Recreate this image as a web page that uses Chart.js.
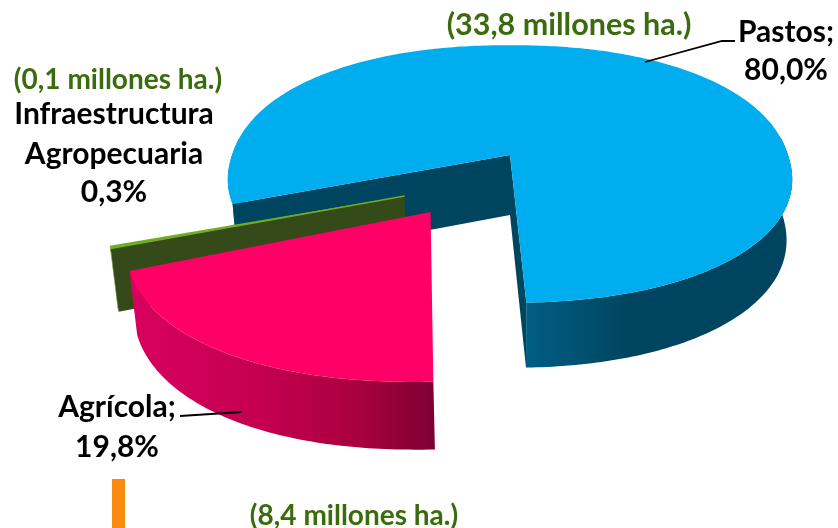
<!DOCTYPE html>
<html lang="es">
<head>
<meta charset="utf-8">
<title>Uso de la tierra</title>
<script src="https://cdn.jsdelivr.net/npm/chart.js@4"></script>
<style>
html,body{margin:0;padding:0;background:#fff;overflow:hidden}
canvas{display:block}
</style>
</head>
<body>
<canvas id="c" width="838" height="528"></canvas>
<script>
const categories = ["Pastos", "Agrícola", "Infraestructura Agropecuaria"];
const shares = [80.0, 19.8, 0.3];
const hectares = [33.8, 8.4, 0.1];

// --- presentation only ---
const GREEN = "#3A6B0C";
const FAMILY = 'Lato, "Open Sans", sans-serif';
const cam = {cx:510, cy:155, A:126, B:278, k:0.147, depthY:60, scaleY:1.034, scaleX:0.98};
const pieces = [
  {top:"#00AEEF", wall:"#004560", shift:[0,0], round:0.93,
   side:[[225,"#1398CE"],[242,"#1398CE"],[243,"#005E84"],[525,"#005E84"],[630,"#00455F"],[800,"#00455F"]]},
  {top:"#FF0066", wall:"#8A0038", shift:[-0.268,0.424], round:0.93,
   side:[[130,"#DA0060"],[260,"#C4004F"],[360,"#A8003F"],[436,"#7D0032"]]},
  {top:"#6FAE23", wall:"#344A18", shift:[-0.362,0.31], round:1,
   side:[[100,"#5E8A22"],[125,"#5E8A22"]]}
];
const paintOrder = [0,2,1];
const valueText = v => v.toFixed(1).replace(".",",");
const texts = [
  {lines:[`(${valueText(hectares[0])} millones ha.)`], color:GREEN, size:30.5, x:569, y:[35]},
  {lines:[`${categories[0]};`, `${valueText(shares[0])}%`], color:"#000", size:30, x:786, y:[42,80]},
  {lines:[`(${valueText(hectares[2])} millones ha.)`], color:GREEN, size:28, x:118, y:[89]},
  {lines:categories[2].split(" ").concat([`${valueText(shares[2])}%`]), color:"#000", size:30, x:114, y:[124,164,202]},
  {lines:[`${categories[1]};`, `${valueText(shares[1])}%`], color:"#000", size:30, x:117, y:[417,457]},
  {lines:[`(${valueText(hectares[1])} millones ha.)`], color:GREEN, size:28, x:354, y:[525]}
];
const leaders = [
  [[645,62],[722,41],[735,41]],
  [[180,416],[242,412]]
];

function project(s,t,bottom){
  const w = 1 - cam.k*t;
  let x = cam.B*s/w, y = cam.A*t/w;
  if(bottom){ x*=cam.scaleX; y = y*cam.scaleY + cam.depthY; }
  return [cam.cx+x, cam.cy+y];
}
function rim(a,p){
  const c=Math.cos(a), n=Math.sin(a);
  return [Math.sign(c)*Math.pow(Math.abs(c),p), Math.sign(n)*Math.pow(Math.abs(n),p)];
}
function poly(ctx,pts,fill){
  ctx.beginPath();
  pts.forEach((p,i)=> i?ctx.lineTo(p[0],p[1]):ctx.moveTo(p[0],p[1]));
  ctx.closePath();
  ctx.fillStyle=fill; ctx.fill();
}
function arcAngles(a0,a1){
  const out=[], n=Math.max(2,Math.ceil((a1-a0)/0.015));
  for(let i=0;i<=n;i++) out.push(a0+(a1-a0)*i/n);
  return out;
}
const threeD = {
  id:"threeD",
  beforeDatasetDraw(chart,args){
    const ctx=chart.ctx, arcs=chart.getDatasetMeta(args.index).data;
    paintOrder.forEach(i=>{
      const el=arcs[i], st=pieces[i];
      const [ox,oy]=st.shift;
      const angs=arcAngles(el.startAngle,el.endAngle);
      const grad=ctx.createLinearGradient(st.side[0][0],0,st.side[st.side.length-1][0],0);
      const span=st.side[st.side.length-1][0]-st.side[0][0];
      st.side.forEach(([x,c])=>grad.addColorStop((x-st.side[0][0])/span,c));
      const pt=(a,b)=>{const r=rim(a,st.round);return project(ox+r[0],oy+r[1],b);};
      // outer rim: only the run of angles facing the viewer
      let run=[];
      const flush=()=>{
        if(run.length>1){
          const upper=run.map(a=>pt(a,false));
          const lower=run.map(a=>pt(a,true)).reverse();
          poly(ctx,upper.concat(lower),grad);
        }
        run=[];
      };
      angs.forEach(a=>{ if(Math.sin(a)>=-0.12) run.push(a); else flush(); });
      flush();
      // cut faces, only those turned toward the viewer
      [[el.startAngle,-1],[el.endAngle,1]].forEach(([a,sign])=>{
        if(sign*Math.cos(a)<=0) return;
        poly(ctx,[project(ox,oy,false),pt(a,false),pt(a,true),project(ox,oy,true)],st.wall);
      });
      // top face
      const topPts=[project(ox,oy,false)].concat(angs.map(a=>pt(a,false)));
      poly(ctx,topPts,st.top);
      if(i===2){
        ctx.beginPath();
        ctx.moveTo(...topPts[0]); ctx.lineTo(...topPts[1]);
        ctx.strokeStyle=st.top; ctx.lineWidth=1.5; ctx.stroke();
      }
    });
    return false;
  },
  afterDraw(chart){
    const ctx=chart.ctx;
    ctx.save();
    ctx.strokeStyle="#000"; ctx.lineWidth=1.8;
    leaders.forEach(l=>{
      ctx.beginPath();
      l.forEach((p,i)=> i?ctx.lineTo(p[0],p[1]):ctx.moveTo(p[0],p[1]));
      ctx.stroke();
    });
    ctx.fillStyle="#F98B10";
    ctx.fillRect(112,479,13,49);
    ctx.textAlign="center"; ctx.textBaseline="alphabetic";
    texts.forEach(t=>{
      ctx.font=`bold ${t.size}px ${FAMILY}`;
      ctx.fillStyle=t.color;
      t.lines.forEach((ln,i)=>ctx.fillText(ln,t.x,t.y[i]));
    });
    ctx.restore();
  }
};
new Chart(document.getElementById("c"),{
  type:"pie",
  data:{labels:categories,datasets:[{data:shares,backgroundColor:pieces.map(p=>p.top),borderWidth:0}]},
  options:{
    responsive:false,animation:false,rotation:250,
    plugins:{legend:{display:false},title:{display:false},tooltip:{enabled:false}}
  },
  plugins:[threeD]
});
</script>
</body>
</html>
